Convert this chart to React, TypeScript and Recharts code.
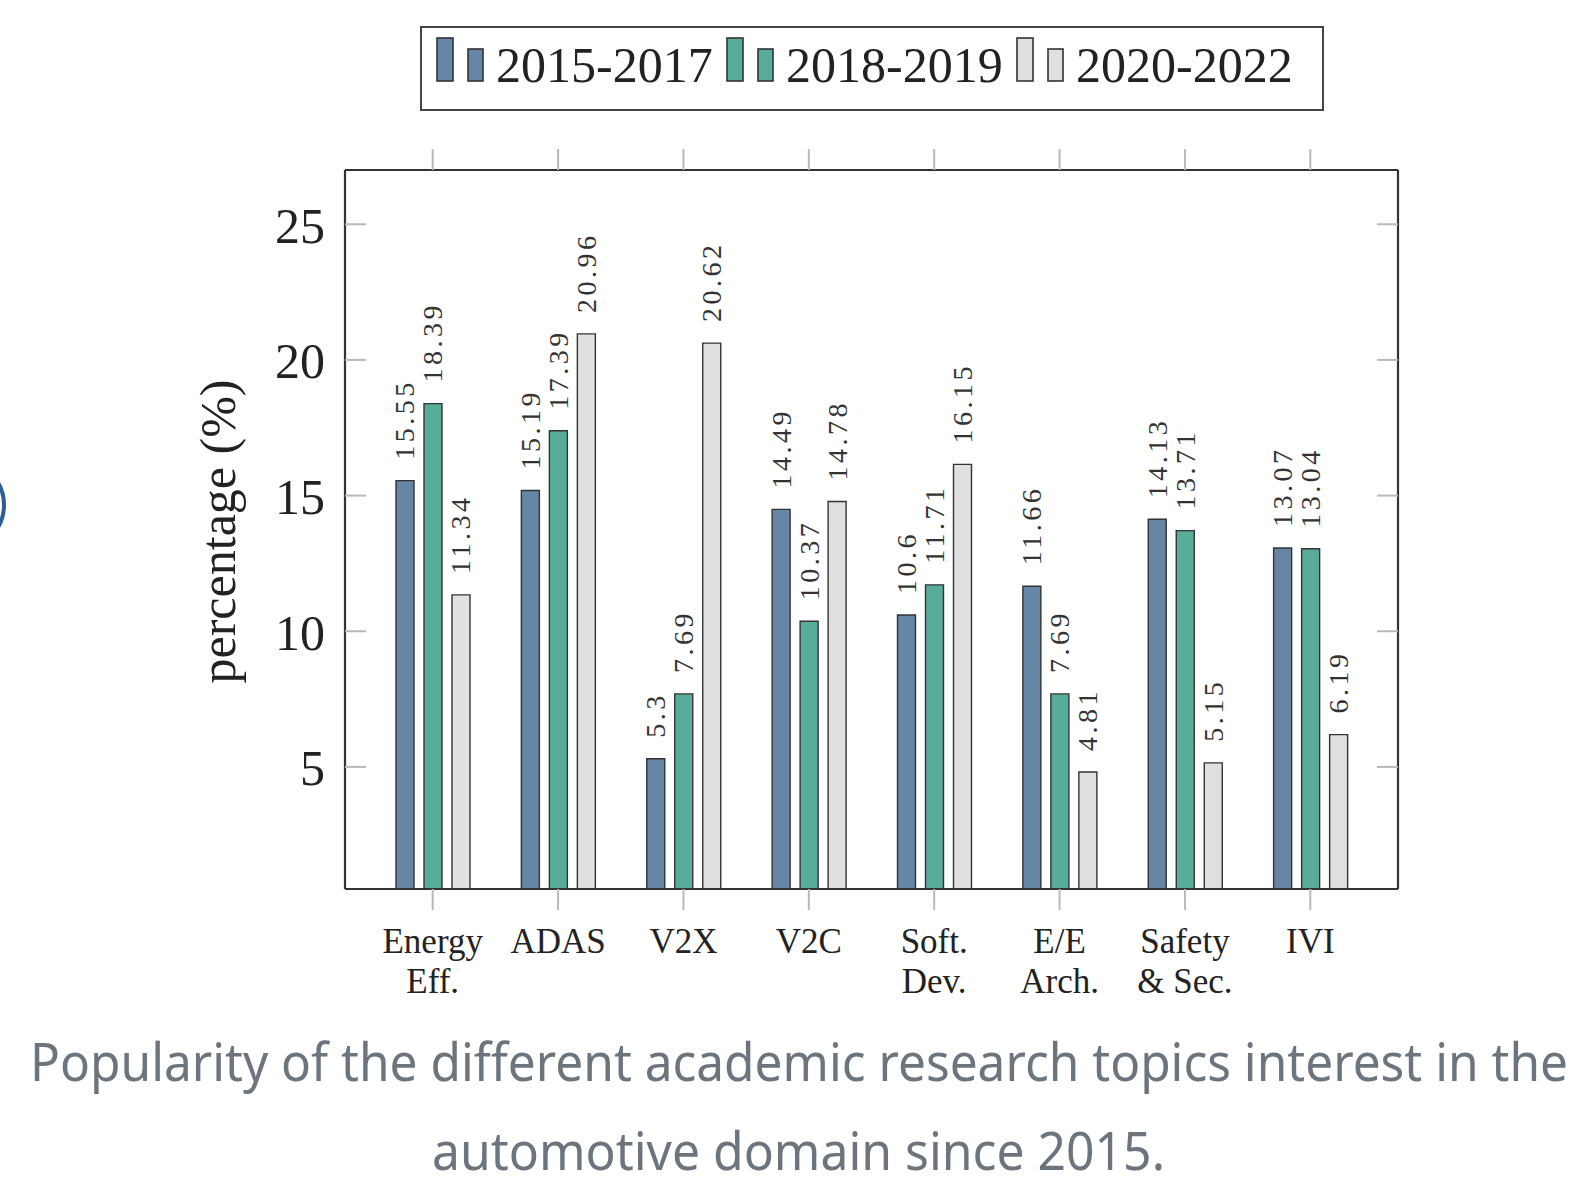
import React from 'react';
import { BarChart, Bar, XAxis, YAxis, Legend, LabelList, Label } from 'recharts';

const categories = ['Energy\nEff.', 'ADAS', 'V2X', 'V2C', 'Soft.\nDev.', 'E/E\nArch.', 'Safety\n& Sec.', 'IVI'];
const series2015 = [15.55, 15.19, 5.3, 14.49, 10.6, 11.66, 14.13, 13.07];
const series2018 = [18.39, 17.39, 7.69, 10.37, 11.71, 7.69, 13.71, 13.04];
const series2020 = [11.34, 20.96, 20.62, 14.78, 16.15, 4.81, 5.15, 6.19];
const seriesNames = ['2015-2017', '2018-2019', '2020-2022'];
const seriesColors = ['#6686a6', '#58ad9a', '#e0e0e1'];
const yTicks = [5, 10, 15, 20, 25];
const yDomain = [0.5, 27];
const captionLines = [
  'Popularity of the different academic research topics interest in the',
  'automotive domain since 2015.',
];

const data = categories.map((c, i) => ({
  category: c,
  a: series2015[i],
  b: series2018[i],
  c: series2020[i],
}));

const SERIF = "'Liberation Serif', 'Times New Roman', serif";
const TICK_GRAY = '#b9b9b9';
const FRAME = '#333333';

const BottomTick = (props: any) => {
  const { x, y, payload } = props;
  const lines = String(payload.value).split('\n');
  return (
    <g>
      <line x1={x} x2={x} y1={y} y2={y + 21} stroke={TICK_GRAY} strokeWidth={2} />
      {lines.map((l, i) => (
        <text key={i} x={x} y={y + 64 + i * 40} textAnchor="middle" fontFamily={SERIF} fontSize={35} fill="#222">
          {l}
        </text>
      ))}
    </g>
  );
};

const TopTick = (props: any) => {
  const { x, y } = props;
  return <line x1={x} x2={x} y1={y - 21} y2={y} stroke={TICK_GRAY} strokeWidth={2} />;
};

const LeftTick = (props: any) => {
  const { x, y, payload } = props;
  return (
    <g>
      <line x1={x} x2={x + 21} y1={y} y2={y} stroke={TICK_GRAY} strokeWidth={2} />
      <text x={x - 20} y={y + 18.5} textAnchor="end" fontFamily={SERIF} fontSize={50} fill="#222">
        {payload.value}
      </text>
    </g>
  );
};

const RightTick = (props: any) => {
  const { x, y } = props;
  return <line x1={x - 21} x2={x} y1={y} y2={y} stroke={TICK_GRAY} strokeWidth={2} />;
};

const BarValueLabel = (props: any) => {
  const { x, y, width, value } = props;
  const cx = Number(x) + Number(width) / 2;
  const bx = cx + 9.5;
  const by = Number(y) - 21;
  return (
    <text
      x={bx}
      y={by}
      transform={`rotate(-90 ${bx} ${by})`}
      fontFamily={SERIF}
      fontSize={28}
      letterSpacing={3.5}
      fill="#333"
      textAnchor="start"
    >
      {String(value)}
    </text>
  );
};

const renderLegend = (props: any) => {
  const payload = props.payload || [];
  return (
    <div style={{ position: 'relative', width: 0, height: 0 }}>
      <svg width={1586} height={130} style={{ position: 'absolute', left: 0, top: 0, overflow: 'visible' }}>
        <rect x={421} y={27} width={902} height={83} fill="#fff" stroke="#444" strokeWidth={2} />
        {payload.map((p: any, i: number) => {
          const sx = 437 + i * 290;
          const col = p.color || seriesColors[i];
          return (
            <g key={i}>
              <rect x={sx} y={38} width={16} height={43} fill={col} stroke={FRAME} strokeWidth={1.6} />
              <rect x={sx + 31} y={49} width={15} height={32} fill={col} stroke={FRAME} strokeWidth={1.6} />
              <text x={sx + 59} y={82} fontFamily={SERIF} fontSize={50} fill="#222">
                {p.value}
              </text>
            </g>
          );
        })}
      </svg>
    </div>
  );
};

const YLabel = (props: any) => {
  const vb = props.viewBox || {};
  const cy = (vb.y ?? 170) + (vb.height ?? 719) / 2 + 2;
  const bx = 235;
  return (
    <text x={bx} y={cy} transform={`rotate(-90 ${bx} ${cy})`} textAnchor="middle" fontFamily={SERIF} fontSize={50} fill="#222">
      percentage (%)
    </text>
  );
};

export default function App() {
  return (
    <div style={{ position: 'absolute', left: 0, top: 0, width: 1586, height: 1197, background: '#fff', overflow: 'hidden' }}>
      <BarChart
        width={1586}
        height={1000}
        data={data}
        margin={{ top: 169, right: 187, bottom: 11, left: 245 }}
        barGap={10}
      >
        <XAxis
          dataKey="category"
          type="category"
          height={100}
          padding={{ left: 25, right: 25 }}
          tickLine={false}
          tickSize={0}
          tickMargin={0}
          axisLine={{ stroke: FRAME, strokeWidth: 2.2 }}
          tick={<BottomTick />}
          interval={0}
        />
        <XAxis
          xAxisId="top"
          dataKey="category"
          type="category"
          orientation="top"
          height={1}
          padding={{ left: 25, right: 25 }}
          tickLine={false}
          tickSize={0}
          tickMargin={0}
          axisLine={{ stroke: FRAME, strokeWidth: 2.2 }}
          tick={<TopTick />}
          interval={0}
        />
        <YAxis
          type="number"
          domain={yDomain}
          ticks={yTicks}
          allowDataOverflow
          width={100}
          tickLine={false}
          tickSize={0}
          tickMargin={0}
          axisLine={{ stroke: FRAME, strokeWidth: 2.2 }}
          tick={<LeftTick />}
          interval={0}
        >
          <Label content={<YLabel />} />
        </YAxis>
        <YAxis
          yAxisId="right"
          type="number"
          orientation="right"
          domain={yDomain}
          ticks={yTicks}
          allowDataOverflow
          width={1}
          tickLine={false}
          tickSize={0}
          tickMargin={0}
          axisLine={{ stroke: FRAME, strokeWidth: 2.2 }}
          tick={<RightTick />}
          interval={0}
        />
        <Legend verticalAlign="top" align="left" wrapperStyle={{ left: 0, top: 0, width: 1586 }} content={renderLegend} />
        <Bar dataKey="a" name={seriesNames[0]} fill={seriesColors[0]} stroke={FRAME} strokeWidth={1.4} barSize={18} isAnimationActive={false}>
          <LabelList dataKey="a" content={<BarValueLabel />} />
        </Bar>
        <Bar dataKey="b" name={seriesNames[1]} fill={seriesColors[1]} stroke={FRAME} strokeWidth={1.4} barSize={18} isAnimationActive={false}>
          <LabelList dataKey="b" content={<BarValueLabel />} />
        </Bar>
        <Bar dataKey="c" name={seriesNames[2]} fill={seriesColors[2]} stroke={FRAME} strokeWidth={1.4} barSize={18} isAnimationActive={false}>
          <LabelList dataKey="c" content={<BarValueLabel />} />
        </Bar>
      </BarChart>
      <svg width={1586} height={1197} style={{ position: 'absolute', left: 0, top: 0, pointerEvents: 'none' }}>
        <circle cx={-40} cy={505} r={44} fill="none" stroke="#2c5f95" strokeWidth={4} />
        <text
          x={30}
          y={1081}
          textLength={1538}
          lengthAdjust="spacingAndGlyphs"
          fontFamily="'Noto Sans', 'Open Sans', sans-serif"
          fontSize={53}
          fill="#6c757d"
        >
          {captionLines[0]}
        </text>
        <text
          x={432}
          y={1170}
          textLength={733}
          lengthAdjust="spacingAndGlyphs"
          fontFamily="'Noto Sans', 'Open Sans', sans-serif"
          fontSize={53}
          fill="#6c757d"
        >
          {captionLines[1]}
        </text>
      </svg>
    </div>
  );
}
